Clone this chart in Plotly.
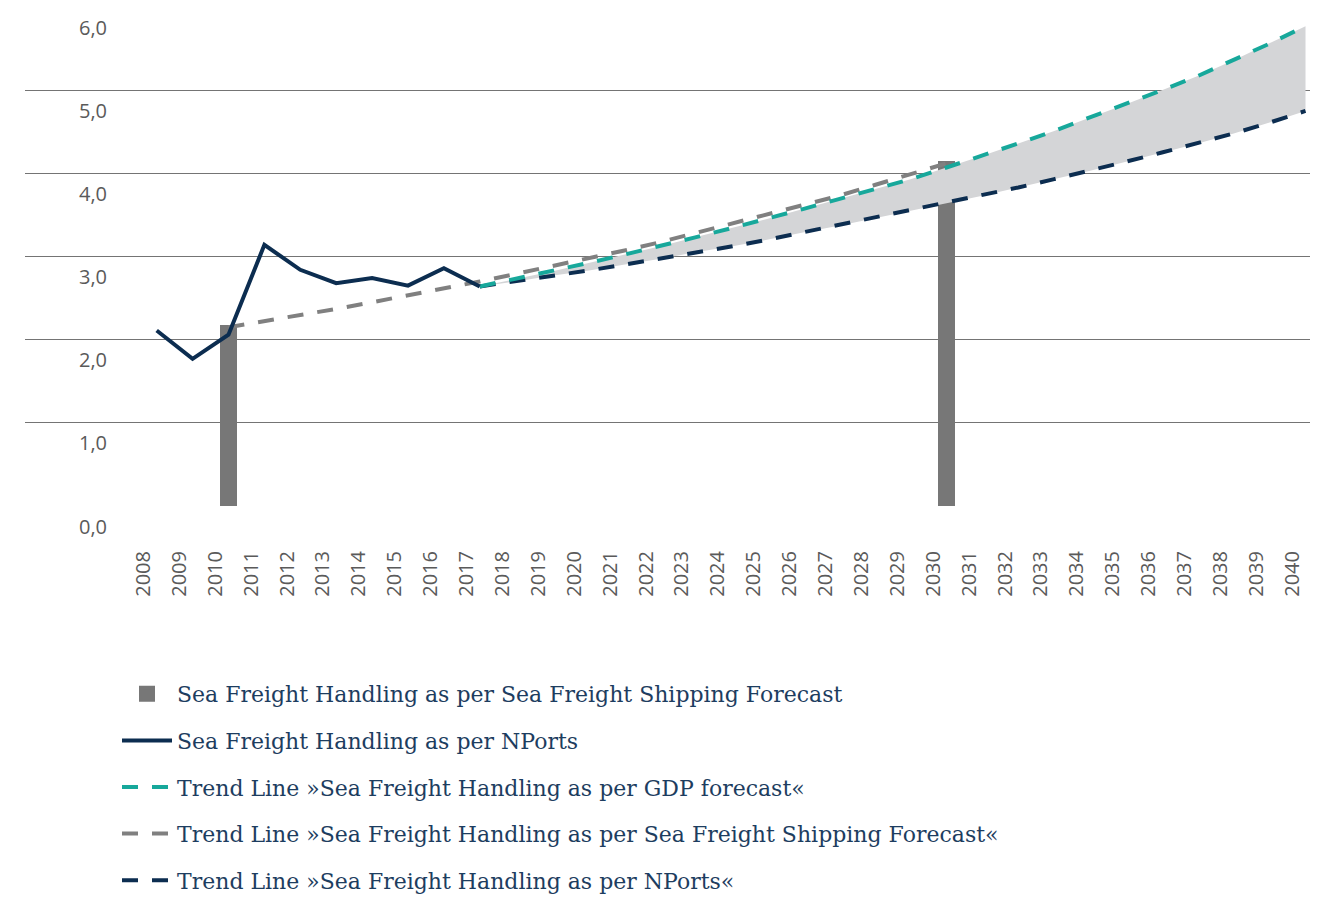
import plotly.graph_objects as go

# ---------------- data ----------------
years = list(range(2008, 2041))
year_labels = [str(y) for y in years]

nports_years = list(range(2008, 2018))
nports_vals = [2.11, 1.77, 2.06, 3.14, 2.84, 2.68, 2.74, 2.65, 2.86, 2.64]

bar_years = [2010, 2030]
bar_vals = [2.15, 4.12]

trend_sf_years = list(range(2010, 2031))
trend_sf_vals = [2.15, 2.22, 2.29, 2.37, 2.45, 2.53, 2.61, 2.70, 2.79, 2.88, 2.97,
                 3.07, 3.17, 3.28, 3.39, 3.50, 3.62, 3.73, 3.86, 3.99, 4.12]

trend_gdp_years = list(range(2017, 2041))
trend_gdp_vals = [2.64, 2.73, 2.82, 2.92, 3.02, 3.12, 3.23, 3.34, 3.45, 3.57, 3.69,
                  3.81, 3.93, 4.07, 4.21, 4.36, 4.51, 4.67, 4.83, 5.00, 5.17, 5.36,
                  5.56, 5.77]

trend_np_years = list(range(2017, 2041))
trend_np_vals = [2.64, 2.70, 2.77, 2.83, 2.90, 2.97, 3.05, 3.12, 3.20, 3.29, 3.37,
                 3.46, 3.55, 3.64, 3.73, 3.83, 3.93, 4.03, 4.14, 4.25, 4.36, 4.48,
                 4.61, 4.75]

y_ticks = [0, 1, 2, 3, 4, 5, 6]
y_tick_labels = ["0,0", "1,0", "2,0", "3,0", "4,0", "5,0", "6,0"]

names = [
    "Sea Freight Handling as per Sea Freight Shipping Forecast",
    "Sea Freight Handling as per NPorts",
    "Trend Line »Sea Freight Handling as per GDP forecast«",
    "Trend Line »Sea Freight Handling as per Sea Freight Shipping Forecast«",
    "Trend Line »Sea Freight Handling as per NPorts«",
]

# ---------------- style ----------------
NAVY = "#0c2d50"
TEAL = "#17a89b"
GREY_LINE = "#808080"
GREY_BAR = "#777777"
FILL = "#d4d5d7"
TEXT = "#1d3d60"
TICK = "#5a5a5a"
DASH = "16px,14px"

fig = go.Figure()

fig.add_trace(go.Bar(
    x=bar_years, y=bar_vals, width=0.38,
    marker=dict(color=GREY_BAR, line=dict(color=GREY_BAR, width=4)),
    name=names[0], legendgroup="g0", legendrank=1,
))

# band between the two trend lines
fig.add_trace(go.Scatter(
    x=trend_gdp_years, y=trend_gdp_vals, mode="lines",
    line=dict(width=0, color=FILL), showlegend=False, hoverinfo="skip",
    legendgroup="band",
))
fig.add_trace(go.Scatter(
    x=trend_np_years, y=trend_np_vals, mode="lines", fill="tonexty",
    fillcolor=FILL, line=dict(width=0, color=FILL), showlegend=False, hoverinfo="skip",
    legendgroup="band",
))

fig.add_trace(go.Scatter(
    x=trend_sf_years, y=trend_sf_vals, mode="lines",
    line=dict(color=GREY_LINE, width=4, dash=DASH),
    name=names[3], legendgroup="g3", legendrank=4,
))
fig.add_trace(go.Scatter(
    x=trend_np_years, y=trend_np_vals, mode="lines",
    line=dict(color=NAVY, width=4, dash=DASH),
    name=names[4], legendgroup="g4", legendrank=5,
))
fig.add_trace(go.Scatter(
    x=trend_gdp_years, y=trend_gdp_vals, mode="lines",
    line=dict(color=TEAL, width=4, dash=DASH),
    name=names[2], legendgroup="g2", legendrank=3,
))
fig.add_trace(go.Scatter(
    x=nports_years, y=nports_vals, mode="lines",
    line=dict(color=NAVY, width=4),
    name=names[1], legendgroup="g1", legendrank=2,
))

# y tick labels sit just below each gridline
for v, t in zip(y_ticks, y_tick_labels):
    fig.add_annotation(
        x=0.0651, xref="paper", y=v, yref="y", text=t, showarrow=False,
        xanchor="right", yanchor="middle", yshift=-20,
        font=dict(family="Open Sans", size=20, color=TICK),
    )

fig.update_layout(
    width=1335, height=897,
    margin=dict(l=25, r=25, t=7, b=391, autoexpand=False),
    paper_bgcolor="white", plot_bgcolor="white",
    showlegend=True,
    legend=dict(
        xref="container", yref="container",
        x=117 / 1335, y=1 - 673 / 897, xanchor="left", yanchor="top",
        font=dict(family="DejaVu Serif", size=22, color=TEXT),
        tracegroupgap=15, bgcolor="rgba(0,0,0,0)",
        traceorder="grouped", itemwidth=50,
    ),
    xaxis=dict(
        range=[2004.332, 2040.125],
        tickvals=[y - 0.37 for y in years], ticktext=year_labels,
        tickangle=-90, ticks="", ticklabelstandoff=40,
        tickfont=dict(family="Open Sans", size=20, color=TICK),
        showgrid=False, zeroline=False, showline=False, fixedrange=True,
    ),
    yaxis=dict(
        range=[0, 6], tickvals=y_ticks, showticklabels=False,
        showgrid=True, gridcolor="#747474", gridwidth=1,
        zeroline=False, showline=False, fixedrange=True,
    ),
    bargap=0,
)

fig.write_html("out.html")
